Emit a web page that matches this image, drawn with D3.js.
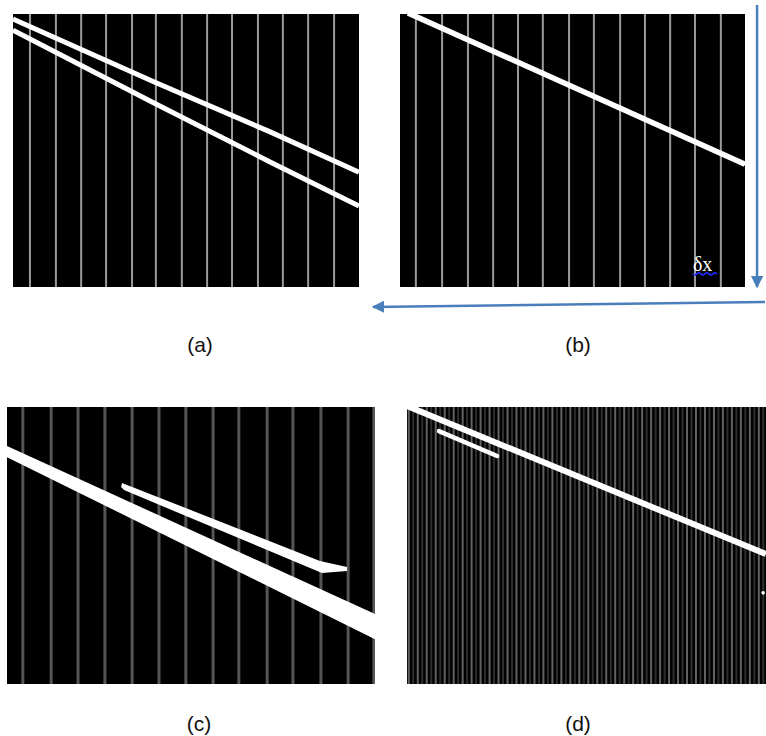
<!DOCTYPE html>
<html>
<head>
<meta charset="utf-8">
<script src="https://cdn.jsdelivr.net/npm/d3@7"></script>
<style>
  body { margin: 0; background: #fff; }
</style>
</head>
<body>
<script>
// positions des raies verticales (unités du panneau, 0-100)
const gridA = [4.9, 12.4, 19.7, 26.9, 34.4, 41.3, 48.8, 56.1, 63.3, 70.8, 78.0, 85.3, 92.8];
const gridB = [4.6, 12.2, 19.7, 27.0, 34.2, 41.4, 49.0, 56.2, 63.8, 71.0, 78.3, 85.5, 93.0];
const gridC = [4.3, 12.0, 19.3, 26.6, 34.0, 41.3, 48.6, 56.0, 63.0, 70.7, 77.7, 85.3, 92.7, 99.7];
const stripeCountD = 80;

// traces blanches
const streaksA = [
  [[0, 1.8], [41, 25], [74, 43], [100, 58]],
  [[0, 5.9], [41.3, 33], [74, 54], [100, 70.3]]
];
const streakB = [[2.3, -0.4], [100, 55]];
const streakCMain = [[0, 14.1], [100, 74.7], [100, 83.8], [0, 18.1]];
const streakCUpper = [[31.25, 27.4], [85.05, 55.6], [92.4, 57.8], [92.4, 59.2], [85.6, 59.9], [31.8, 30.0], [31.0, 28.9]];
const streakDMain = [[0, -0.4], [100, 53.1]];
const streakDShort = [[8.9, 8.7], [25.1, 17.7]];
const dotsD = [[99.2, 67.1]];

// flèches et annotation du panneau (b)
const arrowsB = [
  [[103.5, -3.3], [103.5, 100]],
  [[105.8, 105.5], [-7.8, 107.3]]
];
const noteB = { text: "δx", pos: [84.9, 94.1] };

const labels = ["(a)", "(b)", "(c)", "(d)"];

// mise en page
const boxes = [
  { x: 13, y: 14, w: 346, h: 273, lx: 200, ly: 352 },
  { x: 400, y: 14, w: 345, h: 273, lx: 578, ly: 352 },
  { x: 7, y: 407, w: 368, h: 277, lx: 199, ly: 731 },
  { x: 407, y: 407, w: 359, h: 277, lx: 578, ly: 731 }
];

const svg = d3.select("body")
  .append("svg")
  .attr("width", 766)
  .attr("height", 736);

const defs = svg.append("defs");
defs.append("marker")
  .attr("id", "head")
  .attr("viewBox", "0 0 10 10")
  .attr("refX", 9)
  .attr("refY", 5)
  .attr("markerWidth", 5)
  .attr("markerHeight", 5)
  .attr("markerUnits", "strokeWidth")
  .attr("orient", "auto")
  .append("path")
  .attr("d", "M0,0 L10,5 L0,10 Z")
  .attr("fill", "#4a7ebb");

function makePanel(i) {
  const b = boxes[i];
  const x = d3.scaleLinear().domain([0, 100]).range([b.x, b.x + b.w]);
  const y = d3.scaleLinear().domain([0, 100]).range([b.y, b.y + b.h]);

  defs.append("clipPath")
    .attr("id", "clip" + i)
    .append("rect")
    .attr("x", b.x).attr("y", b.y)
    .attr("width", b.w).attr("height", b.h);

  const g = svg.append("g");
  const inner = g.append("g").attr("clip-path", "url(#clip" + i + ")");

  inner.append("rect")
    .attr("x", b.x).attr("y", b.y)
    .attr("width", b.w).attr("height", b.h)
    .attr("fill", "#000");

  g.append("text")
    .attr("x", b.lx)
    .attr("y", b.ly)
    .attr("text-anchor", "middle")
    .style("font-family", "'Liberation Sans', Arial, sans-serif")
    .style("font-size", "21px")
    .style("fill", "#111")
    .text(labels[i]);

  return { x, y, g, inner };
}

function grid(p, values, color, width) {
  p.inner.selectAll(null)
    .data(values)
    .enter()
    .append("line")
    .attr("x1", d => p.x(d)).attr("x2", d => p.x(d))
    .attr("y1", p.y(0)).attr("y2", p.y(100))
    .attr("stroke", color)
    .attr("stroke-width", width);
}

function stroke(p, pts, width, cap) {
  const line = d3.line().x(d => p.x(d[0])).y(d => p.y(d[1]));
  p.inner.append("path")
    .attr("d", line(pts))
    .attr("fill", "none")
    .attr("stroke", "#fff")
    .attr("stroke-width", width)
    .attr("stroke-linecap", cap || "butt")
    .attr("stroke-linejoin", "round");
}

function shape(p, pts) {
  const line = d3.line().x(d => p.x(d[0])).y(d => p.y(d[1]));
  p.inner.append("path")
    .attr("d", line(pts) + "Z")
    .attr("fill", "#fff");
}

// (a)
const pa = makePanel(0);
grid(pa, gridA, "#9a9a9a", 2);
streaksA.forEach(s => stroke(pa, s, 5));

// (b)
const pb = makePanel(1);
grid(pb, gridB, "#9a9a9a", 2);
stroke(pb, streakB, 5.5);

pb.g.append("text")
  .attr("x", pb.x(noteB.pos[0]))
  .attr("y", pb.y(noteB.pos[1]))
  .style("font-family", "'Liberation Serif', 'DejaVu Serif', serif")
  .style("font-size", "20px")
  .style("fill", "#fff")
  .text(noteB.text);

// soulignement ondulé du correcteur
const wx = pb.x(noteB.pos[0]);
const wy = pb.y(noteB.pos[1]) + 3;
let wave = "M" + wx + "," + wy;
for (let k = 0; k < 6; k++) {
  wave += " q2," + (k % 2 ? -2 : 2) + " 4,0";
}
pb.g.append("path")
  .attr("d", wave)
  .attr("fill", "none")
  .attr("stroke", "#1f2cff")
  .attr("stroke-width", 1.5);

const arrowLine = d3.line().x(d => pb.x(d[0])).y(d => pb.y(d[1]));
arrowsB.forEach(a => {
  svg.append("path")
    .attr("d", arrowLine(a))
    .attr("fill", "none")
    .attr("stroke", "#4a7ebb")
    .attr("stroke-width", 2.5)
    .attr("marker-end", "url(#head)");
});

// (c)
const pc = makePanel(2);
grid(pc, gridC, "#555", 3);
shape(pc, streakCMain);
shape(pc, streakCUpper);

// (d)
const pd = makePanel(3);
const stripes = d3.range(stripeCountD).map(k => ({ v: (k + 0.4) / stripeCountD * 100, bright: k % 2 === 0 }));
grid(pd, stripes.filter(s => !s.bright).map(s => s.v), "#2e2e2e", 2);
grid(pd, stripes.filter(s => s.bright).map(s => s.v), "#626262", 2);
stroke(pd, streakDMain, 6);
stroke(pd, streakDShort, 4.5, "round");
pd.inner.selectAll(null)
  .data(dotsD)
  .enter()
  .append("circle")
  .attr("cx", d => pd.x(d[0]))
  .attr("cy", d => pd.y(d[1]))
  .attr("r", 1.8)
  .attr("fill", "#fff");
</script>
</body>
</html>
